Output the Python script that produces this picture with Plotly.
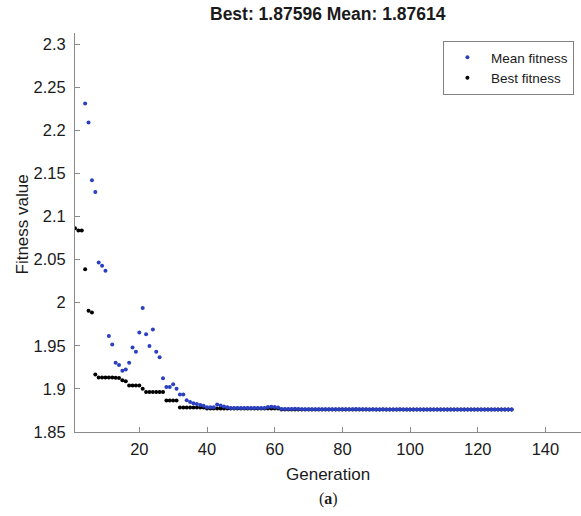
import plotly.graph_objects as go

generations = list(range(1, 131))

best_fitness = [
    2.0864, 2.0837, 2.0837, 2.0387, 1.9907, 1.9887, 1.9166, 1.9131, 1.9131, 1.9131,
    1.9131, 1.9131, 1.9128, 1.9125, 1.9101, 1.9090, 1.9038, 1.9038, 1.9038, 1.9038,
    1.9003, 1.8965, 1.8965, 1.8965, 1.8965, 1.8965, 1.8965, 1.8864, 1.8864, 1.8864,
    1.8864, 1.8785, 1.8785, 1.8785, 1.8785, 1.8785, 1.8785, 1.8785, 1.8785, 1.8772,
    1.8772, 1.8772, 1.8772, 1.8772, 1.8772, 1.8772, 1.8772, 1.8772, 1.8772, 1.8772,
    1.8772, 1.8772, 1.8772, 1.8772, 1.8772, 1.8772, 1.8772, 1.8772, 1.8772, 1.8772,
    1.8772, 1.87596, 1.87596, 1.87596, 1.87596, 1.87596, 1.87596, 1.87596, 1.87596, 1.87596,
    1.87596, 1.87596, 1.87596, 1.87596, 1.87596, 1.87596, 1.87596, 1.87596, 1.87596, 1.87596,
    1.87596, 1.87596, 1.87596, 1.87596, 1.87596, 1.87596, 1.87596, 1.87596, 1.87596, 1.87596,
    1.87596, 1.87596, 1.87596, 1.87596, 1.87596, 1.87596, 1.87596, 1.87596, 1.87596, 1.87596,
    1.87596, 1.87596, 1.87596, 1.87596, 1.87596, 1.87596, 1.87596, 1.87596, 1.87596, 1.87596,
    1.87596, 1.87596, 1.87596, 1.87596, 1.87596, 1.87596, 1.87596, 1.87596, 1.87596, 1.87596,
    1.87596, 1.87596, 1.87596, 1.87596, 1.87596, 1.87596, 1.87596, 1.87596, 1.87596, 1.87596,
]

mean_fitness = [
    None, None, None, 2.2310, 2.2090, 2.1420, 2.1285, 2.0465, 2.0427, 2.0369,
    1.9613, 1.9515, 1.9302, 1.9276, 1.9209, 1.9224, 1.9302, 1.9480, 1.9430, 1.9655,
    1.9938, 1.9635, 1.9497, 1.9690, 1.9430, 1.9368, 1.9124, 1.9023, 1.9023, 1.9055,
    1.9003, 1.8935, 1.8935, 1.8868, 1.8848, 1.8834, 1.8825, 1.8814, 1.8805, 1.8787,
    1.8787, 1.8787, 1.8818, 1.8807, 1.8795, 1.8787, 1.8779, 1.8778, 1.8778, 1.8778,
    1.8777, 1.8777, 1.8778, 1.8777, 1.8777, 1.8777, 1.8778, 1.8790, 1.8792, 1.8789,
    1.8784, 1.8767, 1.8766, 1.8766, 1.8768, 1.8769, 1.8767, 1.8764, 1.8764, 1.8763,
    1.8764, 1.8763, 1.8763, 1.8764, 1.8763, 1.8763, 1.8763, 1.8764, 1.8763, 1.8763,
    1.8763, 1.8763, 1.8764, 1.8766, 1.8765, 1.8763, 1.8763, 1.8762, 1.8763, 1.8762,
    1.8762, 1.8763, 1.8762, 1.8762, 1.8762, 1.8762, 1.8763, 1.8762, 1.8762, 1.8762,
    1.8762, 1.8762, 1.8762, 1.8762, 1.8762, 1.8762, 1.8762, 1.8762, 1.8762, 1.8762,
    1.8762, 1.8762, 1.8762, 1.8762, 1.8762, 1.8762, 1.8762, 1.8762, 1.8762, 1.8762,
    1.8762, 1.8762, 1.8762, 1.8762, 1.87614, 1.87614, 1.87614, 1.87614, 1.87614, 1.87614,
]

y_tick_values = [1.85, 1.9, 1.95, 2.0, 2.05, 2.1, 2.15, 2.2, 2.25, 2.3]
y_tick_labels = ["1.85", "1.9", "1.95", "2", "2.05", "2.1", "2.15", "2.2", "2.25", "2.3"]
x_tick_values = [20, 40, 60, 80, 100, 120, 140]
x_tick_labels = ["20", "40", "60", "80", "100", "120", "140"]

title_text = "Best: 1.87596 Mean: 1.87614"

FONT = "Liberation Sans, Arial, Helvetica, sans-serif"
AXIS_GRAY = "#8a8a8a"
TEXT = "#1a1a1a"

fig = go.Figure()
fig.add_trace(go.Scatter(
    x=generations, y=best_fitness, mode="markers", name="Best fitness",
    marker=dict(color="#000000", size=4, line=dict(width=0)),
))
fig.add_trace(go.Scatter(
    x=generations, y=mean_fitness, mode="markers", name="Mean fitness",
    marker=dict(color="#2a40c0", size=4, line=dict(width=0)),
))

fig.update_layout(
    width=581, height=516,
    margin=dict(l=75, r=0, t=33, b=84),
    paper_bgcolor="white", plot_bgcolor="white",
    font=dict(family=FONT, color=TEXT, size=16),
    showlegend=True,
    legend=dict(
        x=0.986, y=0.98, xanchor="right", yanchor="top",
        traceorder="reversed",
        bordercolor="#808080", borderwidth=1, bgcolor="white",
        font=dict(family=FONT, size=13.5, color=TEXT),
        itemwidth=37, tracegroupgap=0,
    ),
    xaxis=dict(
        range=[1, 150.5], showgrid=False, zeroline=False,
        showline=True, linecolor=AXIS_GRAY, linewidth=1,
        ticks="inside", ticklen=5, tickcolor=AXIS_GRAY,
        tickvals=x_tick_values, ticktext=x_tick_labels,
        tickfont=dict(family=FONT, size=16.5, color=TEXT),
        ticklabelstandoff=2,
    ),
    yaxis=dict(
        range=[1.85, 2.3128], showgrid=False, zeroline=False,
        showline=True, linecolor=AXIS_GRAY, linewidth=1,
        ticks="inside", ticklen=5, tickcolor=AXIS_GRAY,
        tickvals=y_tick_values, ticktext=y_tick_labels,
        tickfont=dict(family=FONT, size=16.5, color=TEXT),
        ticklabelstandoff=5,
    ),
    annotations=[
        dict(text="<b>" + title_text + "</b>", xref="paper", yref="paper",
             x=0.5, y=1.0, yshift=19, xanchor="center", yanchor="middle",
             showarrow=False, font=dict(family=FONT, size=17.5, color=TEXT)),
        dict(text="Generation", xref="paper", yref="paper",
             x=0.5, y=0.0, yshift=-42, xanchor="center", yanchor="middle",
             showarrow=False, font=dict(family=FONT, size=17, color=TEXT)),
        dict(text="Fitness value", xref="paper", yref="paper",
             x=0.0, y=0.5, xshift=-53, yshift=8, xanchor="center", yanchor="middle",
             textangle=-90, showarrow=False,
             font=dict(family=FONT, size=17, color=TEXT)),
        dict(text="(<b>a</b>)", xref="paper", yref="paper",
             x=0.5, y=0.0, yshift=-67, xanchor="center", yanchor="middle",
             showarrow=False, font=dict(family="Liberation Serif, serif", size=16, color=TEXT)),
    ],
)

fig.write_html("out.html")
